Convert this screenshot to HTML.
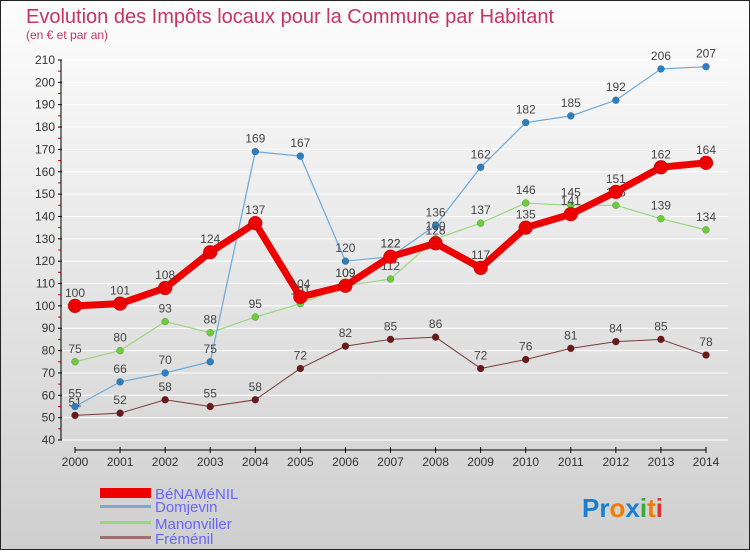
<!DOCTYPE html>
<html><head><meta charset="utf-8"><style>
body{margin:0;width:750px;height:550px;overflow:hidden;font-family:"Liberation Sans",sans-serif}
</style></head><body>
<svg id="c" width="750" height="550" xmlns="http://www.w3.org/2000/svg">
<defs><linearGradient id="bg" x1="0" y1="0" x2="0" y2="1"><stop offset="0" stop-color="#fdfdfd"/><stop offset="1" stop-color="#cfcfcf"/></linearGradient></defs>
<rect x="0.5" y="0.5" width="749" height="549" fill="url(#bg)" stroke="#222"/>
<text x="26" y="23" font-size="20" fill="#c8335f">Evolution des Impôts locaux pour la Commune par Habitant</text>
<text x="26" y="39" font-size="12" fill="#c8335f">(en € et par an)</text>
<g id="grid"></g><g id="axes"></g><g id="series"></g>
<g>
<rect x="100" y="488" width="51" height="10" fill="#e00"/>
<text x="155" y="499" font-size="15" fill="#6666ff">BéNAMéNIL</text>
<rect x="100" y="505" width="51" height="3" fill="#7fa8cc"/>
<text x="155" y="512" font-size="15" fill="#6666ff">Domjevin</text>
<rect x="100" y="521" width="51" height="3" fill="#99d77f"/>
<text x="155" y="529" font-size="15" fill="#6666ff">Manonviller</text>
<rect x="100" y="536" width="51" height="3" fill="#a07070"/>
<text x="155" y="544" font-size="15" fill="#6666ff">Fréménil</text>
</g>
<text x="582" y="517" font-size="26" font-weight="bold"><tspan fill="#1a7fd0">Pr</tspan><tspan fill="#f07d00">o</tspan><tspan fill="#1a7fd0">x</tspan><tspan fill="#3aa83a">i</tspan><tspan fill="#f07d00">t</tspan><tspan fill="#e03030">i</tspan></text>
</svg>
<script>
const years=[2000,2001,2002,2003,2004,2005,2006,2007,2008,2009,2010,2011,2012,2013,2014];
const yTicks=[40,50,60,70,80,90,100,110,120,130,140,150,160,170,180,190,200,210];
const benamenil=[100,101,108,124,137,104,109,122,128,117,135,141,151,162,164];
const domjevin=[55,66,70,75,169,167,120,122,136,162,182,185,192,206,207];
const manonviller=[75,80,93,88,95,101,109,112,130,137,146,145,145,139,134];
const fremenil=[51,52,58,55,58,72,82,85,86,72,76,81,84,85,78];
const NS="http://www.w3.org/2000/svg";
const X=i=>75+i*(706-75)/(years.length-1);
const Y=v=>440-(v-40)*(380/170);
function mk(p,t,a){const e=document.createElementNS(NS,t);for(const k in a)e.setAttribute(k,a[k]);document.getElementById(p).appendChild(e);return e;}
yTicks.forEach(v=>{
 const g=mk('grid','line',{x1:62,x2:728,y1:Y(v),y2:Y(v),stroke:'#fff','stroke-width':1});
 
 
 const t=mk('axes','text',{x:55,y:Y(v)+4,'font-size':12,fill:'#333','text-anchor':'end'});t.textContent=v;
 
 
 mk('axes','line',{x1:58,x2:62,y1:Y(v),y2:Y(v),stroke:'#000'});
 if(v<210)mk('axes','line',{x1:58,x2:61,y1:Y(v+5),y2:Y(v+5),stroke:'#e00'});
});
const ya=mk('axes','line',{x1:61,x2:61,y1:Y(210),y2:Y(40),stroke:'#000'});


const xa=mk('axes','line',{x1:X(0),x2:X(14),y1:450,y2:450,stroke:'#000'});


years.forEach((y,i)=>{
 mk('axes','line',{x1:X(i),x2:X(i),y1:447,y2:453,stroke:'#000'});
 const t=mk('axes','text',{x:X(i),y:466,'font-size':12,fill:'#333','text-anchor':'middle'});t.textContent=y;
 
 
});
function series(name,data,color,dot,w,r,fs){
 const pts=data.map((v,i)=>X(i)+','+Y(v)).join(' ');
 const l=mk('series','polyline',{points:pts,fill:'none',stroke:color,'stroke-width':w,'stroke-linejoin':'round'});
 
 
 data.forEach((v,i)=>{
  const c=mk('series','circle',{cx:X(i),cy:Y(v),r:r,fill:dot,stroke:'rgba(0,0,0,0.3)','stroke-width':0.5});
  
  
  const t=mk('series','text',{x:X(i),y:Y(v)-9,'font-size':12,fill:'#444','text-anchor':'middle'});t.textContent=v;
  
  
 });
}
series('fremenil',fremenil,'#7a3a3a','#6b1a1a',1,3.5);
series('manonviller',manonviller,'#99d77f','#6ccc3c',1.2,3.5);
series('domjevin',domjevin,'#6aa8d8','#2f7fc0',1.2,3.5);
series('benamenil',benamenil,'#ee0000','#ee0000',7,7);
</script>
</body></html>
